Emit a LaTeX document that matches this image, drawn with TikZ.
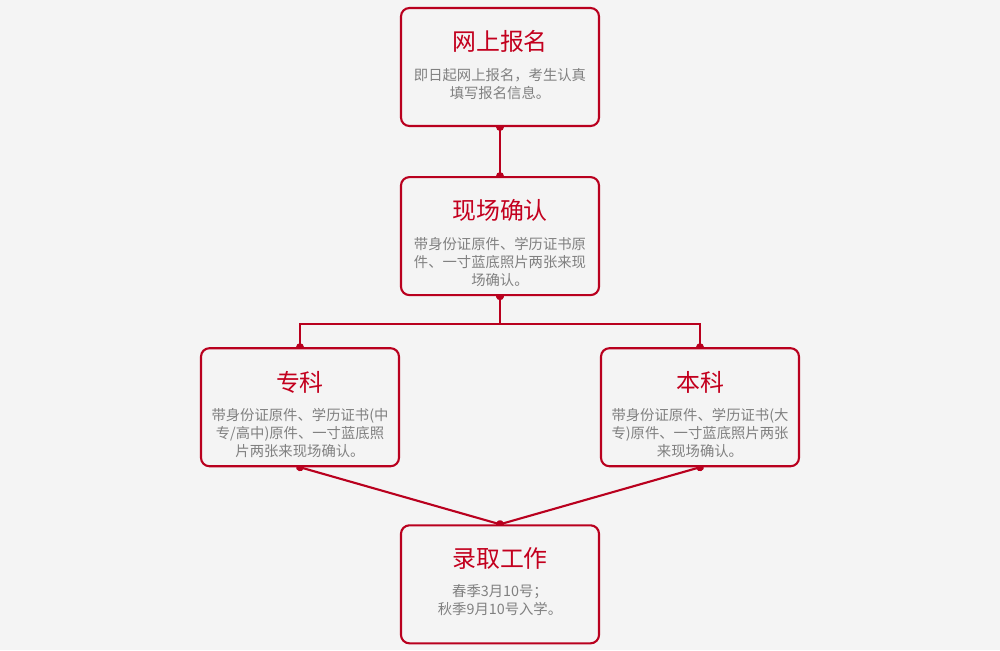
\documentclass[tikz,border=0pt]{standalone}
\usepackage{fontspec}
\setmainfont{Noto Sans CJK SC}
\usetikzlibrary{arrows.meta,positioning}
\definecolor{flowred}{RGB}{185,0,30}
\definecolor{headred}{RGB}{195,0,30}
\definecolor{bodygray}{RGB}{128,128,128}
\definecolor{paper}{RGB}{244,244,244}
\pgfdeclarelayer{bg}
\pgfdeclarelayer{lines}
\pgfsetlayers{bg,lines,main}
\tikzset{
  box/.style={draw=flowred, line width=1.5pt, rounded corners=6pt, fill=paper, minimum width=4.95cm, minimum height=2.95cm, inner sep=0pt},
  head/.style={font=\fontsize{17}{20}\selectfont, text=headred, inner sep=0pt},
  body/.style={font=\fontsize{10.2}{12.8}\selectfont, text=bodygray, align=center, inner sep=0pt},
  link/.style={draw=flowred, line width=1.5pt, {Circle[length=5.5pt]}-{Circle[length=5.5pt]}, shorten <=-2.75pt, shorten >=-2.75pt}
}
\begin{document}
\begin{tikzpicture}
  % page
  \begin{pgfonlayer}{bg}
    \fill[paper] (-12.5,1.675) rectangle (12.5,-14.575);
  \end{pgfonlayer}
  \useasboundingbox (-12.5,1.675) rectangle (12.5,-14.575);

  % boxes
  \node[box] (apply) at (0,0) {};
  \node[box, below=1.225cm of apply] (confirm) {};
  \node[box, below=1.275cm of confirm, xshift=-5cm] (junior) {};
  \node[box, below=1.275cm of confirm, xshift=5cm] (senior) {};
  \node[box, below=1.425cm of junior, xshift=5cm] (admit) {};

  % texts
  \node[head] (apply-t) at ([yshift=-0.87cm]apply.north) {网上报名};
  \node[body, below=0.38cm of apply-t] (apply-b) {即日起网上报名，考生认真\\填写报名信息。};
  \node[head] (confirm-t) at ([yshift=-0.87cm]confirm.north) {现场确认};
  \node[body, below=0.36cm of confirm-t] (confirm-b) {带身份证原件、学历证书原\\件、一寸蓝底照片两张来现\\场确认。};
  \node[head] (junior-t) at ([yshift=-0.87cm]junior.north) {专科};
  \node[body, below=0.36cm of junior-t] (junior-b) {带身份证原件、学历证书(中\\专/高中)原件、一寸蓝底照\\片两张来现场确认。};
  \node[head] (senior-t) at ([yshift=-0.87cm]senior.north) {本科};
  \node[body, below=0.36cm of senior-t] (senior-b) {带身份证原件、学历证书(大\\专)原件、一寸蓝底照片两张\\来现场确认。};
  \node[head] (admit-t) at ([yshift=-0.85cm]admit.north) {录取工作};
  \node[body, below=0.36cm of admit-t] (admit-b) {春季3月10号；\\秋季9月10号入学。};

  % connectors
  \begin{pgfonlayer}{lines}
    \draw[link] (apply.south) -- (confirm.north);
    \draw[link] (confirm.south) -- ++(0,-0.7) -| (junior.north);
    \draw[link] (confirm.south) -- ++(0,-0.7) -| (senior.north);
    \draw[link] (junior.south) -- (admit.north);
    \draw[link] (senior.south) -- (admit.north);
  \end{pgfonlayer}
\end{tikzpicture}
\end{document}
